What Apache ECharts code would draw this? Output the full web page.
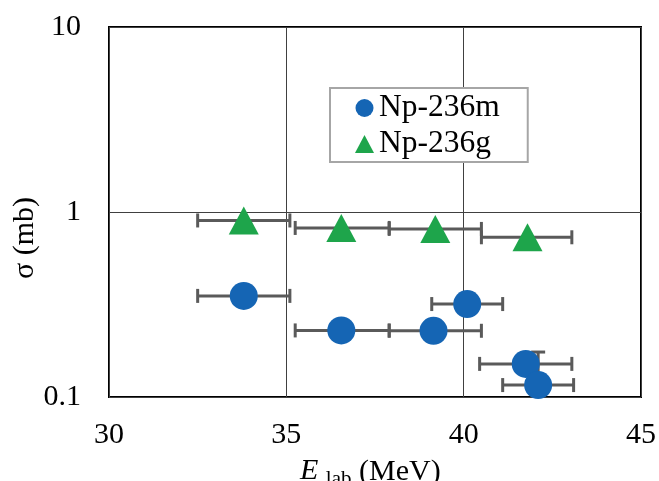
<!DOCTYPE html>
<html>
<head>
<meta charset="utf-8">
<script src="https://cdn.jsdelivr.net/npm/echarts@6/dist/echarts.min.js"></script>
<style>
  html, body { margin: 0; padding: 0; background: #fff; }
  #chart { width: 659px; height: 481px; }
</style>
</head>
<body>
<div id="chart"></div>
<script>
// Np-236g (triangles)
const gEnergy = [33.8, 36.55, 39.2, 41.8];
const gSigma = [0.90, 0.82, 0.81, 0.73];
const gELow = [32.5, 35.25, 37.9, 40.5];
const gEHigh = [35.1, 37.9, 40.5, 43.05];

// Np-236m (circles)
const mEnergy = [33.8, 36.55, 39.15, 40.1, 41.75, 42.1];
const mSigma = [0.352, 0.229, 0.228, 0.318, 0.151, 0.116];
const mELow = [32.5, 35.25, 37.9, 39.1, 40.45, 41.1];
const mEHigh = [35.1, 37.9, 40.5, 41.1, 43.05, 43.1];
const mSigHigh = [NaN, NaN, NaN, NaN, NaN, 0.175];

const xTicks = [30, 35, 40, 45];
const yTicks = [0.1, 1, 10];

const SERIF = '"Liberation Serif", "Times New Roman", serif';
const BAR_COLOR = '#5a5a5a';

const chart = echarts.init(document.getElementById('chart'));

// horizontal (and optional vertical) error bars with caps
function errorBars(params, api) {
  const lo = api.coord([api.value(0), api.value(2)]);
  const hi = api.coord([api.value(1), api.value(2)]);
  const cap = 7;
  const style = { stroke: BAR_COLOR, lineWidth: 3 };
  const children = [
    { type: 'line', shape: { x1: lo[0], y1: lo[1], x2: hi[0], y2: hi[1] }, style },
    { type: 'line', shape: { x1: lo[0], y1: lo[1] - cap, x2: lo[0], y2: lo[1] + cap }, style },
    { type: 'line', shape: { x1: hi[0], y1: hi[1] - cap, x2: hi[0], y2: hi[1] + cap }, style }
  ];
  const yHi = api.value(3);
  if (!isNaN(yHi)) {
    const c = api.coord([api.value(4), api.value(2)]);
    const top = api.coord([api.value(4), yHi]);
    const span = c[1] - top[1];
    children.push(
      { type: 'line', shape: { x1: c[0], y1: top[1], x2: c[0], y2: c[1] + span }, style },
      { type: 'line', shape: { x1: c[0] - cap, y1: top[1], x2: c[0] + cap, y2: top[1] }, style }
    );
  }
  return { type: 'group', children };
}

const option = {
  animation: false,
  backgroundColor: '#fff',
  grid: { left: 109, right: 17, top: 27, bottom: 84, show: true, borderColor: '#000', borderWidth: 2, backgroundColor: 'transparent' },
  xAxis: {
    type: 'value', min: xTicks[0], max: xTicks[xTicks.length - 1], interval: 5,
    axisLine: { show: false }, axisTick: { show: false },
    axisLabel: { fontFamily: SERIF, fontSize: 30, color: '#000', margin: 23 },
    splitLine: { show: true, lineStyle: { color: '#404040', width: 1 } }
  },
  yAxis: {
    type: 'log', logBase: 10, min: yTicks[0], max: yTicks[yTicks.length - 1],
    axisLine: { show: false }, axisTick: { show: false },
    axisLabel: { fontFamily: SERIF, fontSize: 30, color: '#000', margin: 28,
      formatter: v => String(+v.toPrecision(3)) },
    splitLine: { show: true, lineStyle: { color: '#404040', width: 1 } }
  },
  legend: {
    orient: 'vertical', left: 330, top: 88,
    padding: [3, 28, 1, 25], itemGap: 2,
    backgroundColor: '#fff', borderColor: '#a6a6a6', borderWidth: 2, borderRadius: 0,
    itemWidth: 19, itemHeight: 18,
    textStyle: { fontFamily: SERIF, fontSize: 31.5, color: '#000', lineHeight: 34 },
    data: [
      { name: 'Np-236m', icon: 'circle' },
      { name: 'Np-236g', icon: 'triangle' }
    ]
  },
  graphic: [
    { type: 'text', x: 25, y: 238, rotation: Math.PI / 2,
      style: { text: 'σ (mb)', font: '30px ' + SERIF, fill: '#000', align: 'center', verticalAlign: 'middle' } },
    { type: 'text', left: 300, top: 456,
      style: {
        text: '{e|E} {s|lab} (MeV)',
        font: '30px ' + SERIF, fill: '#000',
        rich: {
          e: { fontFamily: SERIF, fontSize: 30, fontStyle: 'italic', verticalAlign: 'top', lineHeight: 32 },
          s: { fontFamily: SERIF, fontSize: 21, verticalAlign: 'top', padding: [13, 0, 0, 0], lineHeight: 22 }
        }
      } }
  ],
  series: [
    {
      type: 'custom', name: 'barsG', silent: true, z: 1, clip: true,
      renderItem: errorBars,
      encode: { x: [0, 1], y: 2 },
      data: gEnergy.map((e, i) => [gELow[i], gEHigh[i], gSigma[i], NaN, e])
    },
    {
      type: 'custom', name: 'barsM', silent: true, z: 1, clip: true,
      renderItem: errorBars,
      encode: { x: [0, 1], y: 2 },
      data: mEnergy.map((e, i) => [mELow[i], mEHigh[i], mSigma[i], mSigHigh[i], e])
    },
    {
      type: 'scatter', name: 'Np-236m', symbol: 'circle', symbolSize: 28, z: 3, clip: false,
      itemStyle: { color: '#1565b4', opacity: 1 },
      data: mEnergy.map((e, i) => [e, mSigma[i]])
    },
    {
      type: 'scatter', name: 'Np-236g', symbol: 'triangle', symbolSize: [30, 28], z: 3, clip: false,
      itemStyle: { color: '#1ea54b', opacity: 1 },
      data: gEnergy.map((e, i) => [e, gSigma[i]])
    }
  ]
};

chart.setOption(option);
</script>
</body>
</html>
